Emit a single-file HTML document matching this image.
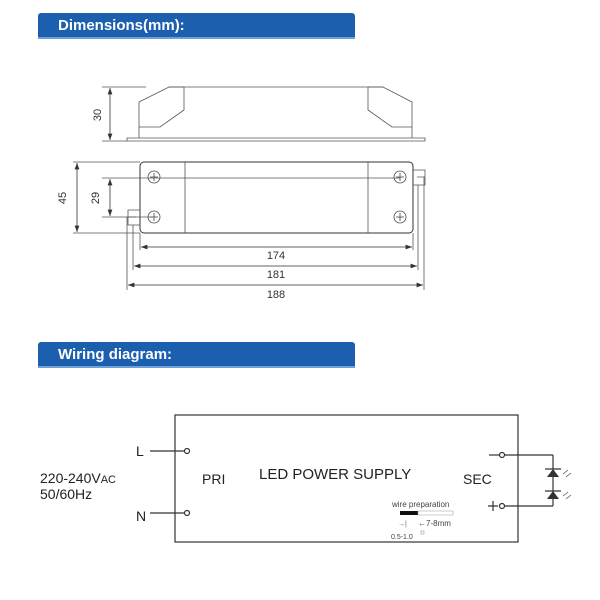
<!DOCTYPE html>
<html><head><style>
body{margin:0;background:#fff;width:600px;height:600px;overflow:hidden;font-family:"Liberation Sans",sans-serif}
.h{position:absolute;left:38px;width:317px;height:26px;background:#1b5fae;color:#fff;font-size:15px;font-weight:bold;line-height:26px;padding-left:20px;box-sizing:border-box;border-radius:3px 3px 0 0;border-bottom:2px solid #6fa0d8}
</style></head><body>
<div class="h" style="top:13px">Dimensions(mm):</div>
<div class="h" style="top:342px">Wiring diagram:</div>
<svg width="600" height="600" style="position:absolute;left:0;top:0" font-family="Liberation Sans, sans-serif">
<defs><marker id="a" markerWidth="8" markerHeight="6" refX="8" refY="3" orient="auto-start-reverse"><path d="M0,0L8,3L0,6z" fill="#333"/></marker></defs>
<g stroke="#555" fill="none" stroke-width="0.8">
<!-- side view -->
<path d="M139,138 L139,102 L169,87 L383,87 L412,102 L412,138"/>
<path d="M169,87 L184,87 L184,110 L160,127 L139,127"/>
<path d="M383,87 L368,87 L368,110 L392,127 L412,127"/>
<path d="M127,138 L425,138 L425,141 L127,141 Z"/>
<line x1="102" y1="87" x2="146" y2="87"/><line x1="102" y1="141" x2="127" y2="141"/>
<line x1="110" y1="88" x2="110" y2="140" stroke="#333" marker-start="url(#a)" marker-end="url(#a)"/>
<!-- top view -->
<rect x="140" y="162" width="273" height="71" rx="4" stroke="#333" stroke-width="1"/>
<line x1="185" y1="162" x2="185" y2="233"/><line x1="368" y1="162" x2="368" y2="233"/>
<path d="M140,210 L128,210 L128,225 L140,225 M128,217 L136,217"/>
<path d="M413,170 L425,170 L425,185 L413,185 M425,177 L417,177"/>
<g stroke="#444">
<circle cx="154" cy="177" r="6"/><circle cx="154" cy="217" r="6"/><circle cx="400" cy="177" r="6"/><circle cx="400" cy="217" r="6"/>
<path d="M150,177h8M154,173v8M150,217h8M154,213v8M396,177h8M400,173v8M396,217h8M400,213v8"/>
</g>
<line x1="73" y1="162" x2="140" y2="162"/><line x1="73" y1="233" x2="140" y2="233"/>
<line x1="102" y1="178" x2="400" y2="178"/><line x1="102" y1="217" x2="154" y2="217"/>
<line x1="77" y1="163" x2="77" y2="232" stroke="#333" marker-start="url(#a)" marker-end="url(#a)"/>
<line x1="110" y1="179" x2="110" y2="216" stroke="#333" marker-start="url(#a)" marker-end="url(#a)"/>
<line x1="140" y1="233" x2="140" y2="250"/><line x1="413" y1="233" x2="413" y2="250"/>
<line x1="133" y1="225" x2="133" y2="270"/><line x1="418" y1="185" x2="418" y2="270"/>
<line x1="127" y1="217" x2="127" y2="290"/><line x1="424" y1="177" x2="424" y2="290"/>
<line x1="141" y1="247" x2="412" y2="247" stroke="#333" marker-start="url(#a)" marker-end="url(#a)"/>
<line x1="134" y1="266" x2="417" y2="266" stroke="#333" marker-start="url(#a)" marker-end="url(#a)"/>
<line x1="128" y1="285" x2="423" y2="285" stroke="#333" marker-start="url(#a)" marker-end="url(#a)"/>
</g>
<g font-size="11" fill="#333" text-anchor="middle">
<text x="276" y="259">174</text><text x="276" y="278">181</text><text x="276" y="298">188</text>
<text transform="translate(101,115) rotate(-90)">30</text>
<text transform="translate(66,198) rotate(-90)">45</text>
<text transform="translate(99,198) rotate(-90)">29</text>
</g>
<!-- wiring -->
<g stroke="#333" fill="none" stroke-width="1.2">
<rect x="175" y="415" width="343" height="127"/>
<line x1="150" y1="451" x2="184" y2="451"/><circle cx="187" cy="451" r="2.5" fill="#fff"/>
<line x1="150" y1="513" x2="184" y2="513"/><circle cx="187" cy="513" r="2.5" fill="#fff"/>
<line x1="489" y1="455" x2="499" y2="455"/><circle cx="502" cy="455" r="2.5" fill="#fff"/>
<line x1="504" y1="455" x2="553" y2="455"/><line x1="553" y1="455" x2="553" y2="506"/>
<line x1="504" y1="506" x2="553" y2="506"/><circle cx="502" cy="506" r="2.5" fill="#fff"/>
<path d="M488,506h10M493,501v10"/>
<path d="M545,469h16M545,491h16"/>
</g>
<path d="M553,469L547,477H559Z M553,491L547,499H559Z" fill="#333"/>
<g stroke="#555" stroke-width="0.8" fill="none"><path d="M563,474l5,-4M566,477l5,-4M563,496l5,-4M566,499l5,-4"/></g>
<g fill="#222" font-size="14">
<text x="136" y="456">L</text><text x="136" y="521">N</text>
<text x="40" y="483">220-240V<tspan font-size="11">AC</tspan></text><text x="40" y="499">50/60Hz</text>
<text x="202" y="484">PRI</text><text x="259" y="479" font-size="15">LED POWER SUPPLY</text><text x="463" y="484">SEC</text>
</g>
<text x="392" y="507" font-size="8" fill="#444">wire preparation</text>
<rect x="400" y="511" width="18" height="4" fill="#111"/><rect x="418" y="511" width="35" height="4" fill="#fff" stroke="#999" stroke-width="0.5"/>
<text x="418" y="526" font-size="8" fill="#444">←7-8mm</text>
<text x="398" y="526" font-size="7" fill="#666">→|</text>
<text x="391" y="539" font-size="7" fill="#444">0.5-1.0</text>
<rect x="421" y="531" width="3" height="3" fill="none" stroke="#888" stroke-width="0.5"/>
</svg>
</body></html>
